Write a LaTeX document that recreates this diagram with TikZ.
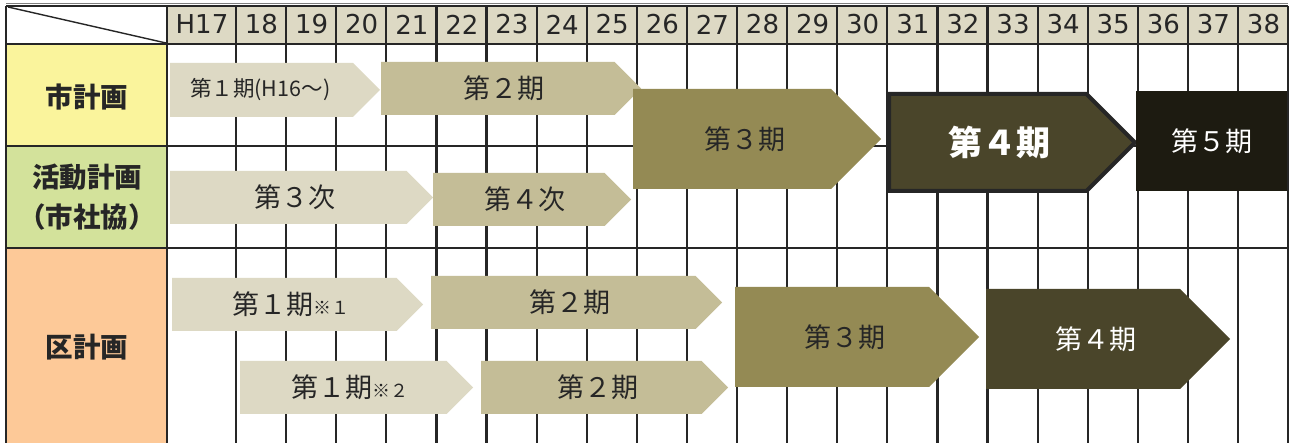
\documentclass[tikz,border=0pt]{standalone}
\usepackage{fontspec}
\setmainfont{DejaVu Sans}
\newfontfamily\jp{Noto Sans CJK JP}

\definecolor{hdr}{HTML}{DDD9C4}
\definecolor{rowA}{HTML}{FAF49C}
\definecolor{rowB}{HTML}{D3E29B}
\definecolor{rowC}{HTML}{FDC998}
\definecolor{tanA}{HTML}{DDD9C4}
\definecolor{tanB}{HTML}{C4BD97}
\definecolor{tanC}{HTML}{948A54}
\definecolor{tanD}{HTML}{4A452A}
\definecolor{tanE}{HTML}{1D1B11}
\definecolor{ink}{HTML}{262626}

% name, left, top, tip, bottom, path options, node options, text
\newcommand{\stage}[8]{%
	\path[#6] (#2,#3) -- ({#4-(#5-#3)/2},#3) -- (#4,{(#3+#5)/2})
		-- ({#4-(#5-#3)/2},#5) -- (#2,#5) -- cycle;
	\node[#7] (#1) at ({(#2+#4)/2-(#5-#3)/8},{(#3+#5)/2}) {#8};}
\newcommand{\smallmark}[1]{{\fontsize{18}{20}\selectfont #1}}

\begin{document}
\begin{tikzpicture}[x=1pt,y=-1pt]
				\tikzstyle{grid}=[line width=2.2pt,color=ink]
				\tikzstyle{yr}=[font=\fontsize{26}{28}\selectfont,text=ink,inner sep=0pt]
				\tikzstyle{rowlab}=[font=\jp\bfseries\fontsize{27.5}{40}\selectfont,text=ink,align=center]
				\tikzstyle{tag}=[font=\jp\fontsize{27}{30}\selectfont,text=ink]
				\tikzstyle{tagw}=[tag,text=white]
				
				\useasboundingbox (0,0) rectangle (1291,443);
				\fill[white] (0,0) rectangle (1291,443);
				
				% cells
				\fill[hdr] (167,6) rectangle (1288,44);
				\fill[rowA] (6,44) rectangle (167,146);
				\fill[rowB] (6,146) rectangle (167,248);
				\fill[rowC] (6,248) rectangle (167,443);
				
				% grid
				\draw[gray,line width=1pt] (6,4) -- (1288,4);
				\draw[line width=1.4pt,ink] (8,7) -- (166,43);
				\draw[grid] (6,6) -- (6,443);
				\draw[grid] (167,6) -- (167,443);
				\foreach \k in {0,...,21}
					\draw[grid] ({236+50.1*\k},6) -- ({236+50.1*\k},443);
				\foreach \y in {6,44,146,248}
					\draw[grid] (6,\y) -- (1288,\y);
				
				% years
				\node[yr] (y17) at (202,24.5) {H17};
				\foreach \n [count=\k from 0] in {18,...,38}
					\node[yr] (y\n) at ({261.5+50.1*\k},24.5) {\n};
				
				% rows
				\node[rowlab] (city) at (87,97) {市計画};
				\node[rowlab] (council) at (87,197) {活動計画\\（市社協）};
				\node[rowlab] (ward) at (87,347) {区計画};
				
				% city plan
				\stage{cityA}{170}{63}{380}{117}{fill=tanA}{tag,font=\jp\fontsize{21.5}{24}\selectfont,xshift=-8pt}{第１期(H16～)}
				\stage{cityB}{381}{62}{641}{115}{fill=tanB}{tag}{第２期}
				\stage{cityC}{633}{89}{881}{189}{fill=tanC}{tag}{第３期}
				\stage{cityD}{889}{94}{1135}{191}{fill=tanD,draw=ink,line width=4pt,line join=miter}{tagw,font=\jp\bfseries\fontsize{34}{36}\selectfont}{第４期}
				\fill[tanE] (1136,91) rectangle (1287,191);
				\node[tagw] (cityE) at (1211.5,141) {第５期};
				
				% council plan
				\stage{councilA}{170}{171}{433}{224}{fill=tanA}{tag}{第３次}
				\stage{councilB}{433}{173}{631}{226}{fill=tanB}{tag}{第４次}
				
				% ward plan
				\stage{wardA}{172}{278}{423}{331}{fill=tanA}{tag}{第１期\smallmark{※１}}
				\stage{wardB}{431}{276}{722}{329}{fill=tanB}{tag}{第２期}
				\stage{wardC}{735}{287}{979}{387}{fill=tanC}{tag}{第３期}
				\stage{wardD}{986}{289}{1230}{389}{fill=tanD}{tagw}{第４期}
				\stage{wardE}{240}{361}{473}{414}{fill=tanA}{tag}{第１期\smallmark{※２}}
				\stage{wardF}{481}{361}{728}{414}{fill=tanB}{tag}{第２期}
\end{tikzpicture}
\end{document}
